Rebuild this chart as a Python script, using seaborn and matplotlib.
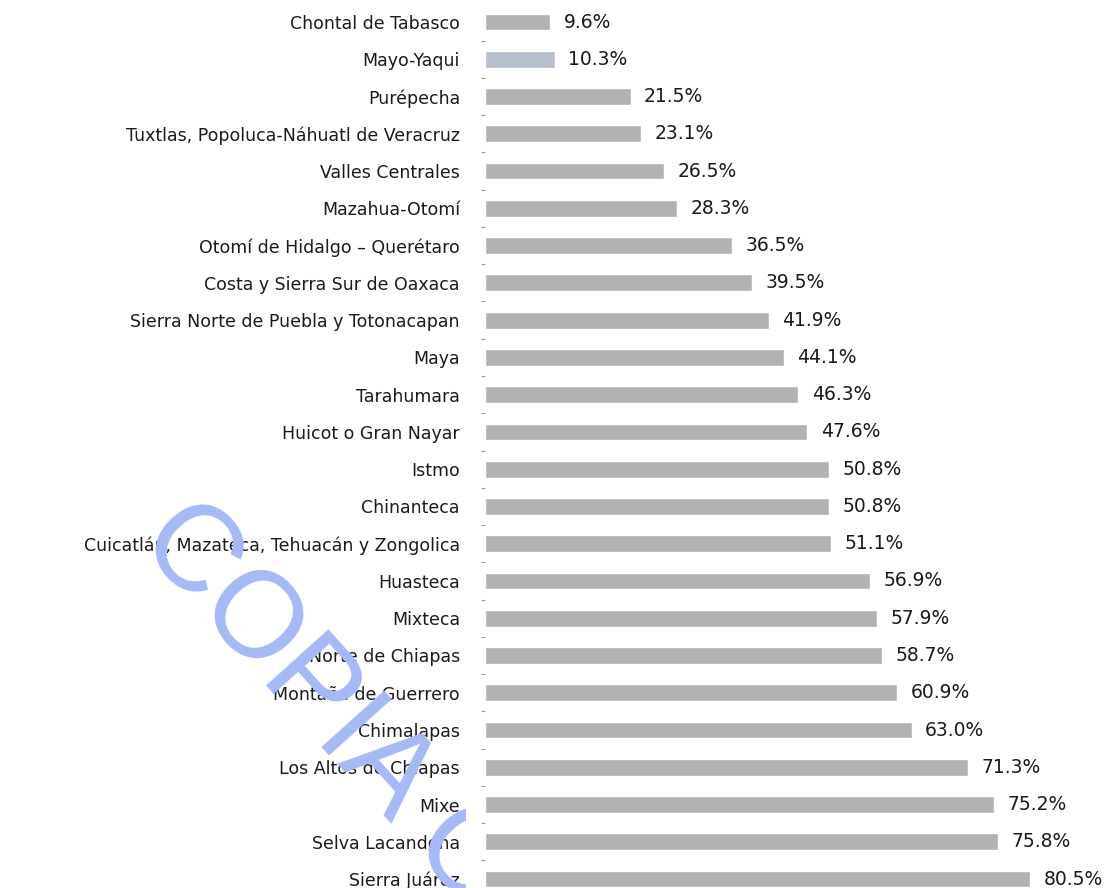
import matplotlib
matplotlib.use("Agg")
import matplotlib.pyplot as plt
import seaborn as sns
import pandas as pd
from matplotlib.transforms import Bbox, TransformedBbox

regiones = ['Chontal de Tabasco', 'Mayo-Yaqui', 'Purépecha',
            'Tuxtlas, Popoluca-Náhuatl de Veracruz', 'Valles Centrales',
            'Mazahua-Otomí', 'Otomí de Hidalgo – Querétaro',
            'Costa y Sierra Sur de Oaxaca', 'Sierra Norte de Puebla y Totonacapan',
            'Maya', 'Tarahumara', 'Huicot o Gran Nayar', 'Istmo', 'Chinanteca',
            'Cuicatlán, Mazateca, Tehuacán y Zongolica', 'Huasteca', 'Mixteca',
            'Norte de Chiapas', 'Montaña de Guerrero', 'Chimalapas',
            'Los Altos de Chiapas', 'Mixe', 'Selva Lacandona', 'Sierra Juárez']
porcentajes = [9.6, 10.3, 21.5, 23.1, 26.5, 28.3, 36.5, 39.5, 41.9, 44.1, 46.3,
               47.6, 50.8, 50.8, 51.1, 56.9, 57.9, 58.7, 60.9, 63.0, 71.3, 75.2,
               75.8, 80.5]

df = pd.DataFrame({'region': regiones, 'pct': porcentajes})
colores = ['#b2b2b2'] * len(regiones)
colores[1] = '#b6bfcb'

sns.set_style('white')
plt.rcParams['font.family'] = ['DejaVu Sans']

fig = plt.figure(figsize=(11.16, 8.88), dpi=100)
ax = fig.add_axes([485 / 1116, 0, 1 - 485 / 1116, (888 - 3.4) / 888])
sns.barplot(data=df, y='region', x='pct', hue='region', palette=colores,
            legend=False, width=0.45, orient='h', ax=ax, saturation=1)

ax.set_xlim(0, 93.2)
ax.set_ylim(23.24, -0.5)
ax.set_xlabel('')
ax.set_ylabel('')
ax.set_xticks([])
sns.despine(ax=ax, left=True, bottom=True)
ax.tick_params(axis='y', which='major', length=0, pad=18, labelsize=12.5,
               labelcolor='#1a1a1a')
ax.set_yticks([i + 0.5 for i in range(len(regiones) - 1)], minor=True)
ax.tick_params(axis='y', which='minor', length=3, width=0.8, color='#999999',
               left=True, direction='out')

for i, v in enumerate(porcentajes):
    ax.text(v + 2.0, i, f'{v:.1f}%', va='center', ha='left', fontsize=13.5,
            color='#1a1a1a')

# marca de agua, recortada a la izquierda de las barras
wm = fig.text(160 / 1116, 1 - 520 / 888, 'COPIA CONTROLADA', fontsize=88,
              family='Liberation Sans', color='#a6b9f7', rotation=-48,
              rotation_mode='anchor', ha='left', va='center', zorder=10)
wm.set_clip_box(TransformedBbox(Bbox([[0, 0], [466 / 1116, 1]]), fig.transFigure))
wm.set_clip_on(True)

fig.savefig('out.png', dpi=100)
